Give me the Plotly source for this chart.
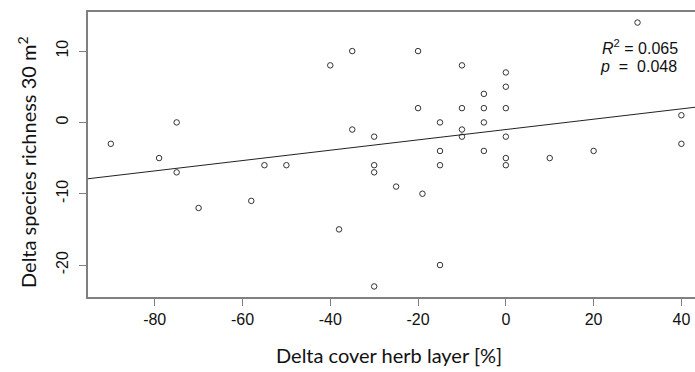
import plotly.graph_objects as go

# Data
delta_cover = [-90, -79, -75, -75, -70, -58, -55, -50, -40, -38, -35, -35,
               -30, -30, -30, -30, -25, -20, -20, -19, -15, -15, -15, -15,
               -10, -10, -10, -10, -5, -5, -5, -5, 0, 0, 0, 0, 0, 0,
               10, 20, 30, 40, 40]
delta_richness = [-3, -5, 0, -7, -12, -11, -6, -6, 8, -15, 10, -1,
                  -2, -6, -7, -23, -9, 10, 2, -10, 0, -4, -6, -20,
                  8, 2, -1, -2, 4, 2, 0, -4, 7, 5, 2, -2, -5, -6,
                  -5, -4, 14, 1, -3]
x_ticks = [-80, -60, -40, -20, 0, 20, 40]
x_tick_labels = ["-80", "-60", "-40", "-20", "0", "20", "40"]
y_ticks = [-20, -10, 0, 10]
y_tick_labels = ["-20", "-10", "0", "10"]
fit_intercept = -1.0
fit_slope = 0.0725
r2_text = "0.065"
p_text = "0.048"

X_RANGE = [-95.2, 43.1]
Y_RANGE = [-24.48, 15.48]

fig = go.Figure()
fig.add_trace(go.Scatter(
    x=delta_cover, y=delta_richness, mode="markers",
    marker=dict(symbol="circle-open", size=5.5, color="#333333",
                line=dict(width=1, color="#333333")),
    showlegend=False, hoverinfo="x+y"))

fit_x = [X_RANGE[0], X_RANGE[1]]
fit_y = [fit_intercept + fit_slope * v for v in fit_x]
fig.add_trace(go.Scatter(x=fit_x, y=fit_y, mode="lines",
                         line=dict(color="#222222", width=1),
                         showlegend=False, hoverinfo="skip"))

tick_font = dict(family="Liberation Sans, Arial, sans-serif", size=16, color="#111111")
title_font = dict(family="Lato, sans-serif", size=20, color="#111111")
stat_font = dict(family="Liberation Sans, Arial, sans-serif", size=16, color="#111111")
fig.update_layout(
    width=695, height=372,
    margin=dict(l=88, r=0, t=12, b=75),
    paper_bgcolor="white", plot_bgcolor="white",
    xaxis=dict(range=X_RANGE, tickvals=x_ticks, ticktext=x_tick_labels,
               ticks="outside", ticklen=7,
               tickwidth=1, tickcolor="#808080", showline=True, mirror=True,
               linecolor="#808080", linewidth=1.5, showgrid=False, zeroline=False,
               tickfont=tick_font),
    yaxis=dict(range=Y_RANGE, tickvals=y_ticks, ticktext=y_tick_labels,
               ticks="outside", ticklen=7, ticklabelstandoff=5,
               tickwidth=1, tickcolor="#808080", showline=True, mirror=False,
               linecolor="#808080", linewidth=1.5, showgrid=False, zeroline=False,
               tickangle=-90, tickfont=tick_font),
    annotations=[
        dict(text="Delta cover herb layer [%]", xref="paper", yref="paper",
             x=(389 - 88) / 607, y=(297 - 355) / 285, xanchor="center", yanchor="middle",
             showarrow=False, font=title_font),
        dict(text="Delta species richness 30 m<sup>2</sup>", xref="paper", yref="paper",
             x=(27 - 88) / 607, y=(297 - 162) / 285, xanchor="center", yanchor="middle",
             textangle=-90, showarrow=False, font=title_font),
        dict(text="<i>R</i><sup>2</sup> = " + r2_text, xref="paper", yref="paper",
             x=(600 - 88) / 607, y=(297 - 47) / 285, xanchor="left", yanchor="middle",
             showarrow=False, font=stat_font),
        dict(text="<i>p</i>\u00a0\u00a0=\u00a0\u00a0" + p_text, xref="paper", yref="paper",
             x=(598 - 88) / 607, y=(297 - 66) / 285, xanchor="left", yanchor="middle",
             showarrow=False, font=stat_font),
    ],
)
fig.write_html("out.html")
